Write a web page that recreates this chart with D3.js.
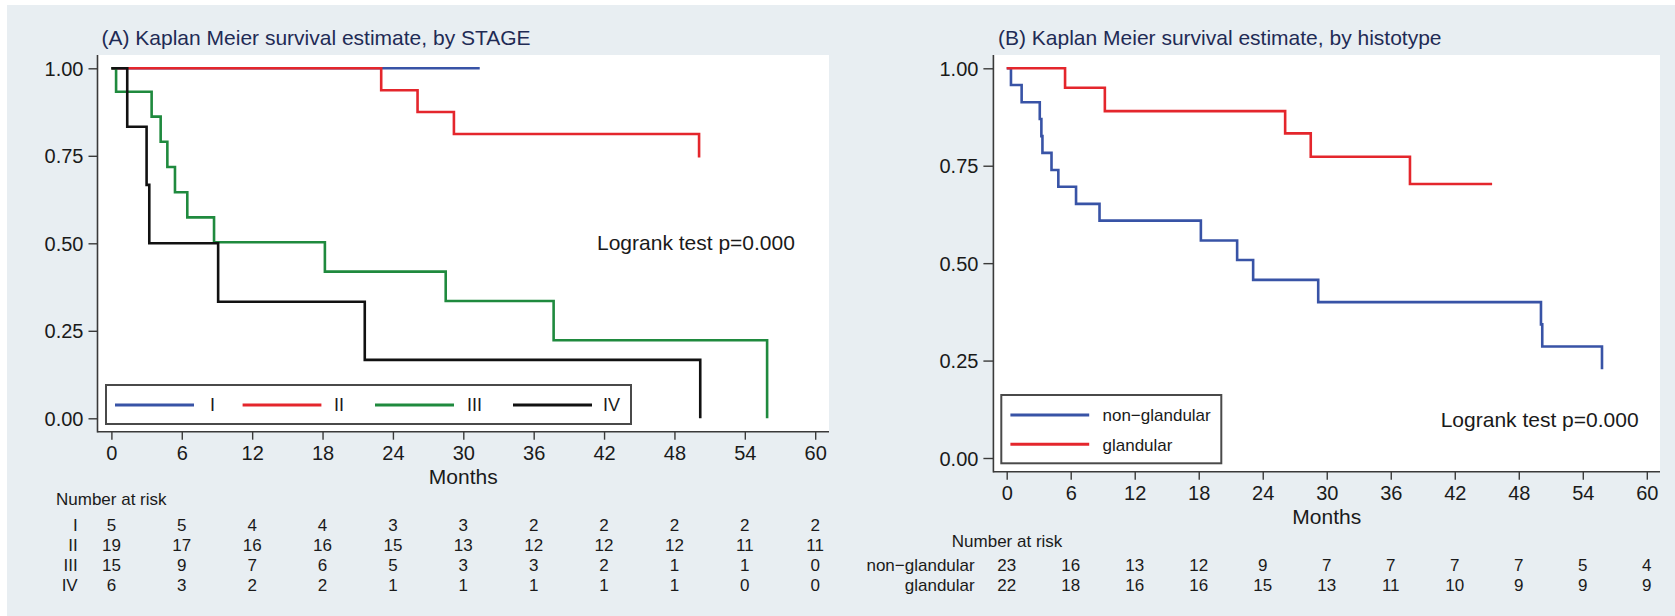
<!DOCTYPE html>
<html><head><meta charset="utf-8">
<script src="https://cdn.jsdelivr.net/npm/d3@7"></script>
<style>
body{margin:0;background:#fff}
svg{display:block}
text{font-family:"Liberation Sans",Arial,Helvetica,sans-serif}
</style>
</head><body>
<svg id="chart" width="1675" height="616"></svg>
<script>
// ---------- data ----------
const monthTicks = [0, 6, 12, 18, 24, 30, 36, 42, 48, 54, 60];
const survTicks = [0, 0.25, 0.5, 0.75, 1];

const stageNames = ["I", "II", "III", "IV"];
const stageI_time = [0, 31.4];
const stageI_surv = [1, 1];
const stageII_time = [0, 23.0, 26.1, 29.2, 50.1];
const stageII_surv = [1, 0.9375, 0.875, 0.8125, 0.745];
const stageIII_time = [0, 0.4, 3.43, 4.2, 4.77, 5.42, 6.47, 8.75, 18.2, 28.5, 37.7, 55.9];
const stageIII_surv = [1, 0.933, 0.862, 0.790, 0.718, 0.646, 0.574, 0.503, 0.419, 0.335, 0.223, 0];
const stageIV_time = [0, 1.35, 3.0, 3.23, 9.1, 21.6, 50.2];
const stageIV_surv = [1, 0.833, 0.667, 0.5, 0.333, 0.167, 0];

const histNames = ["non−glandular", "glandular"];
const nonGland_time = [0, 0.4, 1.4, 3.1, 3.25, 3.35, 4.2, 4.84, 6.5, 8.7, 18.2, 21.6, 23.1, 29.2, 50.08, 50.2, 55.8];
const nonGland_surv = [1, 0.957, 0.913, 0.870, 0.826, 0.783, 0.739, 0.696, 0.652, 0.609, 0.558, 0.508, 0.457, 0.400, 0.343, 0.286, 0.228];
const gland_time = [0, 5.47, 9.2, 26.1, 28.5, 37.8, 45.5];
const gland_surv = [1, 0.95, 0.89, 0.833, 0.773, 0.703, 0.703];

const riskA_I = [5, 5, 4, 4, 3, 3, 2, 2, 2, 2, 2];
const riskA_II = [19, 17, 16, 16, 15, 13, 12, 12, 12, 11, 11];
const riskA_III = [15, 9, 7, 6, 5, 3, 3, 2, 1, 1, 0];
const riskA_IV = [6, 3, 2, 2, 1, 1, 1, 1, 1, 0, 0];
const riskB_nonGland = [23, 16, 13, 12, 9, 7, 7, 7, 7, 5, 4];
const riskB_gland = [22, 18, 16, 16, 15, 13, 11, 10, 9, 9, 9];

const titleA = "(A) Kaplan Meier survival estimate, by STAGE";
const titleB = "(B) Kaplan Meier survival estimate, by histotype";
const logrankText = "Logrank test p=0.000";

// ---------- styles ----------
const C = {blue: "#3853a6", red: "#e4262c", green: "#1f8a3e", black: "#111111"};
const bg = "#e8eef2", axisCol = "#3a3a3a", titleCol = "#1f2b55", textCol = "#1a1a1a";

const svg = d3.select("#chart");
svg.append("rect").attr("x", 7).attr("y", 5).attr("width", 1668).attr("height", 611).attr("fill", bg);

function zip(t, s) { return t.map((d, i) => [d, s[i]]); }

function panel(cfg) {
  const g = svg.append("g");
  const x = d3.scaleLinear().domain([0, 60]).range(cfg.xr);
  const y = d3.scaleLinear().domain([0, 1]).range(cfg.yr);
  const L = cfg.plot.x0, R = cfg.plot.x1, T = cfg.plot.y0, B = cfg.plot.y1;
  g.append("rect").attr("x", L).attr("y", T).attr("width", R - L).attr("height", B - T).attr("fill", "#fff");

  // title
  g.append("text").attr("x", cfg.title.x).attr("y", 45).attr("font-size", 21)
    .attr("fill", titleCol).text(cfg.title.text);

  // y axis
  const ya = g.append("g").attr("transform", `translate(${L},0)`)
    .call(d3.axisLeft(y).tickValues(survTicks).tickFormat(d3.format(".2f"))
      .tickSize(cfg.ytick).tickPadding(cfg.ypad).tickSizeOuter(0));
  ya.select(".domain").remove();
  ya.selectAll("line").attr("stroke", axisCol).attr("stroke-width", 1.4);
  ya.selectAll("text").attr("font-size", 20).attr("fill", textCol).attr("font-family", null).attr("dy", "0.35em");

  // x axis
  const xa = g.append("g").attr("transform", `translate(0,${B})`)
    .call(d3.axisBottom(x).tickValues(monthTicks).tickSize(8).tickPadding(6).tickSizeOuter(0));
  xa.select(".domain").remove();
  xa.selectAll("line").attr("stroke", axisCol).attr("stroke-width", 1.4);
  xa.selectAll("text").attr("font-size", 20).attr("fill", textCol).attr("font-family", null);

  g.append("line").attr("x1", L).attr("x2", L).attr("y1", T).attr("y2", B + 0.7)
    .attr("stroke", axisCol).attr("stroke-width", 1.6);
  g.append("line").attr("x1", L).attr("x2", R).attr("y1", B).attr("y2", B)
    .attr("stroke", axisCol).attr("stroke-width", 1.6);

  g.append("text").attr("x", x(30)).attr("y", cfg.monthsY).attr("text-anchor", "middle")
    .attr("font-size", 21).attr("fill", textCol).text("Months");

  // curves
  const line = d3.line().x(d => x(d[0])).y(d => y(d[1])).curve(d3.curveStepAfter);
  cfg.series.forEach(s => {
    g.append("path").datum(zip(s.t, s.s)).attr("d", line).attr("fill", "none")
      .attr("stroke", s.color).attr("stroke-width", 2.6).attr("stroke-linejoin", "miter");
  });

  // logrank
  g.append("text").attr("x", cfg.logrank.x).attr("y", cfg.logrank.y).attr("font-size", 21)
    .attr("fill", textCol).text(logrankText);

  // risk table
  g.append("text").attr("x", cfg.risk.x).attr("y", cfg.risk.y).attr("font-size", 17)
    .attr("fill", textCol).text("Number at risk");
  cfg.risk.rows.forEach((r, i) => {
    const yy = cfg.risk.rowY[i];
    g.append("text").attr("x", cfg.risk.labelX).attr("y", yy).attr("text-anchor", "end")
      .attr("font-size", 17).attr("fill", textCol).text(r.name);
    g.selectAll(null).data(r.vals).enter().append("text")
      .attr("x", (d, j) => x(monthTicks[j])).attr("y", yy).attr("text-anchor", "middle")
      .attr("font-size", 17).attr("fill", textCol).text(d => d);
  });

  // legend
  const lg = cfg.legend;
  g.append("rect").attr("x", lg.x).attr("y", lg.y).attr("width", lg.w).attr("height", lg.h)
    .attr("fill", "#fff").attr("stroke", "#4a4a4a").attr("stroke-width", 2);
  lg.items.forEach(it => {
    g.append("line").attr("x1", it.x1).attr("x2", it.x2).attr("y1", it.y).attr("y2", it.y)
      .attr("stroke", it.color).attr("stroke-width", 3);
    g.append("text").attr("x", it.tx).attr("y", it.y + 6.3).attr("font-size", lg.fs)
      .attr("fill", textCol).text(it.name);
  });
}

panel({
  xr: [111.4, 815.2], yr: [418.3, 68.3],
  plot: {x0: 97.5, x1: 829, y0: 55, y1: 431.7},
  ytick: 9, ypad: 5,
  title: {x: 101.5, text: titleA},
  monthsY: 483.5,
  series: [
    {t: stageI_time, s: stageI_surv, color: C.blue},
    {t: stageII_time, s: stageII_surv, color: C.red},
    {t: stageIII_time, s: stageIII_surv, color: C.green},
    {t: stageIV_time, s: stageIV_surv, color: C.black}
  ],
  logrank: {x: 597, y: 250},
  risk: {x: 56, y: 505, labelX: 77.7, rowY: [530.5, 550.5, 570.5, 590.5],
    rows: [
      {name: stageNames[0], vals: riskA_I},
      {name: stageNames[1], vals: riskA_II},
      {name: stageNames[2], vals: riskA_III},
      {name: stageNames[3], vals: riskA_IV}
    ]},
  legend: {x: 106, y: 385, w: 525, h: 39, fs: 18, items: [
    {x1: 115, x2: 194, y: 405, tx: 210, color: C.blue, name: stageNames[0]},
    {x1: 242.6, x2: 321.4, y: 405, tx: 334, color: C.red, name: stageNames[1]},
    {x1: 375, x2: 454, y: 405, tx: 467, color: C.green, name: stageNames[2]},
    {x1: 513, x2: 592, y: 405, tx: 603, color: C.black, name: stageNames[3]}
  ]}
});

panel({
  xr: [1006.7, 1646.8], yr: [458, 68.3],
  plot: {x0: 993.4, x1: 1660, y0: 55, y1: 471.7},
  ytick: 10, ypad: 5,
  title: {x: 998, text: titleB},
  monthsY: 523.5,
  series: [
    {t: nonGland_time, s: nonGland_surv, color: C.blue},
    {t: gland_time, s: gland_surv, color: C.red}
  ],
  logrank: {x: 1440.7, y: 427},
  risk: {x: 951.8, y: 546.5, labelX: 974.7, rowY: [570.5, 590.5],
    rows: [
      {name: histNames[0], vals: riskB_nonGland},
      {name: histNames[1], vals: riskB_gland}
    ]},
  legend: {x: 1001.3, y: 395, w: 220, h: 68.3, fs: 17, items: [
    {x1: 1010.4, x2: 1089.2, y: 415, tx: 1102.5, color: C.blue, name: histNames[0]},
    {x1: 1010.4, x2: 1089.2, y: 444.3, tx: 1102.5, color: C.red, name: histNames[1]}
  ]}
});
</script>
</body></html>
